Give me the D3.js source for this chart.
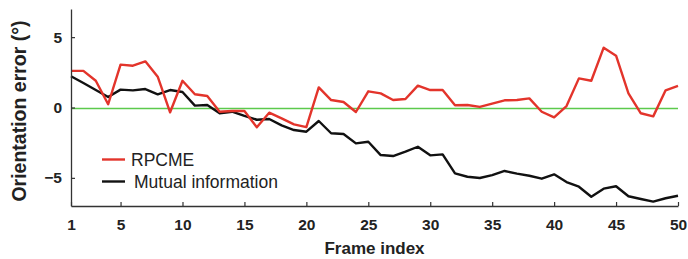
<!DOCTYPE html>
<html>
<head>
<meta charset="utf-8">
<script src="https://cdn.jsdelivr.net/npm/d3@7"></script>
<style>
  body { margin: 0; background: #fff; }
  svg { display: block; font-family: "Liberation Sans", Arial, sans-serif; }
</style>
</head>
<body>
<svg id="chart" width="688" height="259"></svg>
<script>
// frame indices 1..50
const frames = d3.range(1, 51);

const rpcme = [
  2.6, 2.6, 1.9, 0.23, 3.05, 2.97, 3.28, 2.19, -0.34, 1.9,
  0.94, 0.82, -0.3, -0.25, -0.25, -1.41, -0.37, -0.77, -1.2, -1.39,
  1.43, 0.53, 0.39, -0.32, 1.15, 1.0, 0.53, 0.6, 1.55, 1.24,
  1.24, 0.16, 0.18, 0.04, 0.27, 0.51, 0.53, 0.65, -0.3, -0.7,
  0.1, 2.07, 1.9, 4.25, 3.68, 1.0, -0.41, -0.63, 1.22, 1.53
];

const mutualInfo = [
  2.22, 1.74, 1.24, 0.75, 1.27, 1.22, 1.31, 0.94, 1.24, 1.1,
  0.13, 0.18, -0.41, -0.3, -0.6, -0.87, -0.82, -1.27, -1.6, -1.72,
  -0.96, -1.83, -1.88, -2.55, -2.43, -3.38, -3.45, -3.14, -2.79, -3.4,
  -3.33, -4.68, -4.92, -5.01, -4.8, -4.51, -4.7, -4.85, -5.06, -4.75,
  -5.3, -5.63, -6.34, -5.77, -5.6, -6.31, -6.5, -6.69, -6.45, -6.27
];

const xTicks = [1, 5, 10, 15, 20, 25, 30, 35, 40, 45, 50];
const yTicks = [-5, 0, 5];
const legendItems = [
  { name: 'RPCME', color: '#e3342b' },
  { name: 'Mutual information', color: '#111' }
];

const MARGINS = { top: 9, left: 71, right: 10, bottom: 53 };
const svg = d3.select('#chart');
const width = +svg.attr('width');
const height = +svg.attr('height');

const x = d3.scaleLinear().domain([1, 50]).range([MARGINS.left, width - MARGINS.right]);
const y = d3.scaleLinear().domain([-7, 7]).range([height - MARGINS.bottom, MARGINS.top]);

// zero reference line
svg.append('line')
  .attr('x1', x(1)).attr('x2', x(50))
  .attr('y1', y(-0.07)).attr('y2', y(-0.07))
  .attr('stroke', '#5cc94c').attr('stroke-width', 1.6);

const line = d3.line().x((d, i) => x(frames[i])).y(d => y(d));

svg.append('path').datum(mutualInfo)
  .attr('d', line).attr('fill', 'none')
  .attr('stroke', '#111').attr('stroke-width', 2.4)
  .attr('stroke-linejoin', 'round');

svg.append('path').datum(rpcme)
  .attr('d', line).attr('fill', 'none')
  .attr('stroke', '#e3342b').attr('stroke-width', 2.4)
  .attr('stroke-linejoin', 'round');

// axes
const axisX = svg.append('g')
  .attr('transform', `translate(0, ${y(-7)})`)
  .call(d3.axisBottom(x).tickValues(xTicks).tickFormat(d3.format('d')).tickSizeInner(-4).tickSizeOuter(0).tickPadding(13));
const axisY = svg.append('g')
  .attr('transform', `translate(${x(1)}, 0)`)
  .call(d3.axisLeft(y).tickValues(yTicks).tickFormat(d => d < 0 ? '\u2212' + Math.abs(d) : d).tickSizeInner(-4).tickSizeOuter(0).tickPadding(9));

[axisX, axisY].forEach(a => {
  a.select('.domain').attr('stroke', '#333').attr('stroke-width', 1.3);
  a.selectAll('.tick line').attr('stroke', '#333').attr('stroke-width', 1.2);
  a.selectAll('text')
    .attr('font-family', '"Liberation Sans", Arial, sans-serif')
    .attr('font-size', 15.5).attr('font-weight', 'bold').attr('fill', '#222');
});

// axis titles
svg.append('text')
  .attr('x', (x(1) + x(50)) / 2).attr('y', 254)
  .attr('text-anchor', 'middle')
  .attr('font-size', 17).attr('font-weight', 'bold').attr('fill', '#222')
  .text('Frame index');

svg.append('text')
  .attr('transform', 'translate(26, 111) rotate(-90)')
  .attr('text-anchor', 'middle')
  .attr('font-size', 19.5).attr('font-weight', 'bold').attr('fill', '#222')
  .text('Orientation error (°)');

// legend
const legend = svg.append('g').selectAll('g')
  .data(legendItems)
  .join('g')
  .attr('transform', (d, i) => `translate(102, ${159.5 + i * 22})`);

legend.append('line')
  .attr('x1', 0).attr('x2', 23)
  .attr('stroke', d => d.color).attr('stroke-width', 2.4);

legend.append('text')
  .attr('x', (d, i) => i === 0 ? 29 : 32).attr('y', 6)
  .attr('font-size', 17.5).attr('fill', '#222')
  .text(d => d.name);
</script>
</body>
</html>
